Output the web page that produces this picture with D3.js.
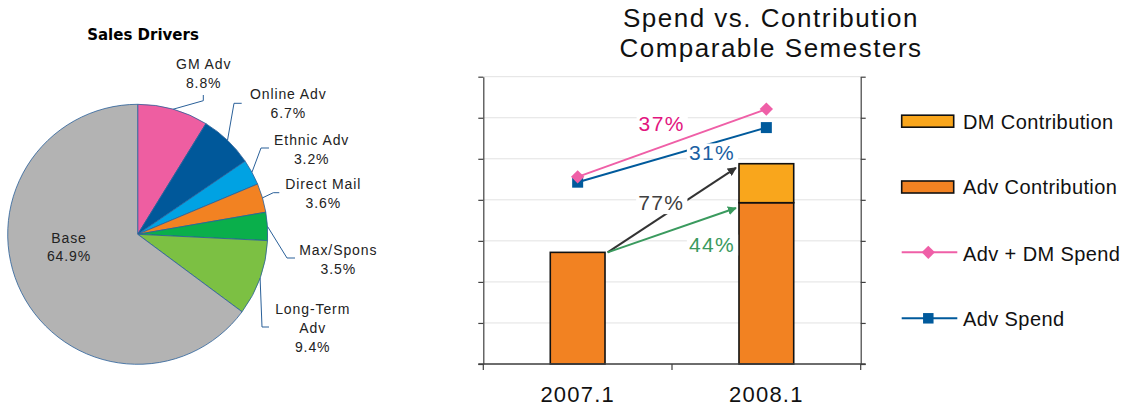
<!DOCTYPE html>
<html>
<head>
<meta charset="utf-8">
<script src="https://cdn.jsdelivr.net/npm/d3@7"></script>
<style>
  body { margin: 0; background: #fff; }
  svg { display: block; font-family: "Liberation Sans", Arial, sans-serif; }
</style>
</head>
<body>
<svg id="chart" width="1128" height="408"></svg>
<script>
// pie data
const driverNames = ["GM Adv", "Online Adv", "Ethnic Adv", "Direct Mail", "Max/Spons", "Long-Term Adv", "Base"];
const driverShares = [8.8, 6.7, 3.2, 3.6, 3.5, 9.4, 64.9];
const driverColors = ["#ee5ea1", "#00589a", "#00a2e3", "#f28222", "#0aaf4b", "#7cc043", "#b3b3b3"];

// bar / line data
const semesters = ["2007.1", "2008.1"];
const advContribution = [2.72, 3.93];
const dmContribution = [0, 0.95];
const advDmSpend = [4.56, 6.21];
const advSpend = [4.43, 5.76];
const growthLabels = ["37%", "31%", "77%", "44%"];

const svg = d3.select("#chart");
svg.append("rect").attr("width", 1128).attr("height", 408).attr("fill", "#fff");

// ---------- pie ----------
const cx = 137.7, cy = 234.3, r = 130;
const pieG = svg.append("g").attr("transform", `translate(${cx},${cy})`);

svg.append("text")
  .attr("x", 143).attr("y", 40)
  .attr("text-anchor", "middle")
  .attr("font-family", "DejaVu Sans")
  .attr("font-weight", "bold")
  .attr("font-size", 15)
  .text("Sales Drivers");

const pie = d3.pie().sort(null).value(d => d)(driverShares);
const arc = d3.arc().innerRadius(0).outerRadius(r);

pieG.selectAll("path.slice")
  .data(pie)
  .enter().append("path")
  .attr("class", "slice")
  .attr("d", arc)
  .attr("fill", (d, i) => driverColors[i])
  .attr("stroke", "#2a6099")
  .attr("stroke-width", 0.8);

// label layout relative to pie centre: text centre, first baseline, leader elbow and end
const labelLayout = [
  { tx: 66, ty: -165, elbow: [65.6, -133.6], end: [65.6, -139.3] },
  { tx: 150.6, ty: -135, elbow: [96.3, -131], end: [104, -131] },
  { tx: 174, ty: -89.3, elbow: [123.3, -86.3], end: [131.3, -86.3] },
  { tx: 185.6, ty: -45.3, elbow: [135.6, -41.6], end: [141.6, -41.6] },
  { tx: 200.6, ty: 20.7, elbow: [149.3, 23.7], end: [157.3, 23.7] },
  { tx: 175, ty: 80, elbow: [124.3, 92.7], end: [131.3, 92.7] },
  { tx: -68.7, ty: 8.4, elbow: null, end: null }
];

pie.forEach((d, i) => {
  const lay = labelLayout[i];
  if (lay.elbow) {
    const mid = (d.startAngle + d.endAngle) / 2;
    const p0 = [r * Math.sin(mid), -r * Math.cos(mid)];
    pieG.append("path")
      .attr("d", d3.line()([p0, lay.elbow, lay.end]))
      .attr("fill", "none")
      .attr("stroke", "#2a6099")
      .attr("stroke-width", 1);
  }
  const name = driverNames[i];
  const lines = name === "Long-Term Adv" ? ["Long-Term", "Adv"] : [name];
  lines.push(driverShares[i].toFixed(1) + "%");
  const t = pieG.append("text")
    .attr("text-anchor", "middle")
    .attr("font-size", 14)
    .attr("letter-spacing", "0.9px")
    .attr("fill", "#222");
  lines.forEach((s, k) => {
    t.append("tspan").attr("x", lay.tx).attr("y", lay.ty + k * 18.7).text(s);
  });
});

// ---------- bar chart ----------
const plotL = 483.3, plotR = 860.7, plotT = 76.7, plotB = 364;
const x = d3.scaleBand().domain(semesters).range([plotL, plotR]).padding(0);
const y = d3.scaleLinear().domain([0, 7]).range([plotB, plotT]);
const barW = x.bandwidth() * 0.29;
const xc = c => x(c) + x.bandwidth() / 2;

// title
const title = svg.append("text")
  .attr("text-anchor", "middle")
  .attr("font-size", 26)
  .attr("letter-spacing", "1.5px")
  .attr("fill", "#111");
title.append("tspan").attr("x", 771).attr("y", 27).text("Spend vs. Contribution");
title.append("tspan").attr("x", 771).attr("y", 57).text("Comparable Semesters");

// grid
svg.append("g").selectAll("line")
  .data(y.ticks(7))
  .enter().append("line")
  .attr("x1", plotL).attr("x2", plotR)
  .attr("y1", d => y(d)).attr("y2", d => y(d))
  .attr("stroke", "#e2e2e2")
  .attr("stroke-width", 1);

// side axes
const axL = svg.append("g").attr("transform", `translate(${plotL},0)`)
  .call(d3.axisLeft(y).ticks(7).tickSize(5).tickFormat("").tickSizeOuter(0));
const axR = svg.append("g").attr("transform", `translate(${plotR},0)`)
  .call(d3.axisRight(y).ticks(7).tickSize(5).tickFormat("").tickSizeOuter(0));
[axL, axR].forEach(a => {
  a.selectAll("path, line").attr("stroke", "#404040").attr("stroke-width", 1.2);
});

// bars
const stackRows = semesters.map((s, i) => ({ sem: s, adv: advContribution[i], dm: dmContribution[i] }));
const stacked = d3.stack().keys(["adv", "dm"])(stackRows);
const barColors = { adv: "#f28222", dm: "#f9a61c" };

stacked.forEach(layer => {
  svg.append("g").selectAll("rect")
    .data(layer.filter(d => d[1] > d[0]))
    .enter().append("rect")
    .attr("x", d => xc(d.data.sem) - barW / 2)
    .attr("width", barW)
    .attr("y", d => y(d[1]))
    .attr("height", d => y(d[0]) - y(d[1]))
    .attr("fill", barColors[layer.key])
    .attr("stroke", "#111")
    .attr("stroke-width", 1.6);
});

// bottom axis
const axB = svg.append("g").attr("transform", `translate(0,${plotB})`);
axB.append("line").attr("x1", plotL - 5).attr("x2", plotR + 5)
  .attr("stroke", "#404040").attr("stroke-width", 1.4);
axB.selectAll("line.tick")
  .data([plotL, ...semesters.slice(1).map(s => x(s)), plotR])
  .enter().append("line")
  .attr("class", "tick")
  .attr("x1", d => d).attr("x2", d => d)
  .attr("y1", 0).attr("y2", 6)
  .attr("stroke", "#404040").attr("stroke-width", 1.2);
axB.selectAll("text")
  .data(semesters)
  .enter().append("text")
  .attr("x", d => xc(d))
  .attr("y", 38.3)
  .attr("text-anchor", "middle")
  .attr("font-size", 22)
  .attr("letter-spacing", "1.2px")
  .attr("fill", "#111")
  .text(d => d);

// arrows
const defs = svg.append("defs");
function marker(id, color) {
  defs.append("marker")
    .attr("id", id)
    .attr("viewBox", "0 0 10 10")
    .attr("refX", 9).attr("refY", 5)
    .attr("markerWidth", 4.5).attr("markerHeight", 4.5)
    .attr("orient", "auto")
    .attr("markerUnits", "strokeWidth")
    .append("path").attr("d", "M0,0 L10,5 L0,10 z").attr("fill", color);
}
marker("arrBlack", "#333");
marker("arrGreen", "#3a9a5e");

const startX = xc(semesters[0]) + barW / 2 + 2.6;
const endX = xc(semesters[1]) - barW / 2 - 3;
const total0 = advContribution[0] + dmContribution[0];
const total1 = advContribution[1] + dmContribution[1];

svg.append("line")
  .attr("x1", startX).attr("y1", y(total0))
  .attr("x2", endX).attr("y2", y(total1 - 0.1))
  .attr("stroke", "#333").attr("stroke-width", 2)
  .attr("marker-end", "url(#arrBlack)");
svg.append("line")
  .attr("x1", startX).attr("y1", y(advContribution[0]))
  .attr("x2", endX).attr("y2", y(advContribution[1] - 0.13))
  .attr("stroke", "#3a9a5e").attr("stroke-width", 2)
  .attr("marker-end", "url(#arrGreen)");

// spend lines
const lineGen = d3.line().x((d, i) => xc(semesters[i])).y(d => y(d));
svg.append("path").datum(advDmSpend)
  .attr("d", lineGen).attr("fill", "none")
  .attr("stroke", "#ef5fa7").attr("stroke-width", 2);
svg.append("path").datum(advSpend)
  .attr("d", lineGen).attr("fill", "none")
  .attr("stroke", "#005a9c").attr("stroke-width", 2);

svg.append("g").selectAll("path")
  .data(advSpend)
  .enter().append("path")
  .attr("d", d3.symbol().type(d3.symbolSquare).size(121))
  .attr("transform", (d, i) => `translate(${xc(semesters[i])},${y(d)})`)
  .attr("fill", "#005a9c");
svg.append("g").selectAll("path")
  .data(advDmSpend)
  .enter().append("path")
  .attr("d", d3.symbol().type(d3.symbolSquare).size(88))
  .attr("transform", (d, i) => `translate(${xc(semesters[i])},${y(d)}) rotate(45)`)
  .attr("fill", "#ef5fa7");

// growth annotations: offset from mid between semesters, value-level baseline
const midX = x(semesters[1]);
const annLayout = [
  { dx: -10.3, yv: 5.68, color: "#e2157f" },
  { dx: 40, yv: 4.96, color: "#1a5fa3" },
  { dx: -10.7, yv: 3.75, color: "#404040" },
  { dx: 40, yv: 2.74, color: "#3a9a5e" }
];
annLayout.forEach((a, i) => {
  const g = svg.append("g");
  const t = g.append("text")
    .attr("x", midX + a.dx).attr("y", y(a.yv))
    .attr("text-anchor", "middle")
    .attr("font-size", 21)
    .attr("letter-spacing", "1.4px")
    .attr("fill", a.color)
    .text(growthLabels[i]);
  const bb = t.node().getBBox();
  g.insert("rect", "text")
    .attr("x", bb.x - 2).attr("y", bb.y + 2)
    .attr("width", bb.width + 5).attr("height", bb.height - 2)
    .attr("fill", "#fff");
});

// legend
const legX = 901.7, legTextX = 963;
const legItems = [
  { label: "DM Contribution", type: "box", color: "#f9a61c", yc: 121.2, base: 129.3 },
  { label: "Adv Contribution", type: "box", color: "#f28222", yc: 187, base: 194.3 },
  { label: "Adv + DM Spend", type: "diamond", color: "#ef5fa7", yc: 252.3, base: 260.7 },
  { label: "Adv Spend", type: "square", color: "#005a9c", yc: 318.3, base: 326 }
];
const leg = svg.append("g");
legItems.forEach(it => {
  if (it.type === "box") {
    leg.append("rect")
      .attr("x", legX).attr("y", it.yc - 6)
      .attr("width", 52).attr("height", 12)
      .attr("fill", it.color).attr("stroke", "#111").attr("stroke-width", 1.6);
  } else {
    leg.append("line")
      .attr("x1", legX).attr("x2", legX + 55.6)
      .attr("y1", it.yc).attr("y2", it.yc)
      .attr("stroke", it.color).attr("stroke-width", 2);
    leg.append("path")
      .attr("d", d3.symbol().type(d3.symbolSquare).size(it.type === "diamond" ? 88 : 110))
      .attr("transform", `translate(${legX + 26.6},${it.yc})` + (it.type === "diamond" ? " rotate(45)" : ""))
      .attr("fill", it.color);
  }
  leg.append("text")
    .attr("x", legTextX).attr("y", it.base)
    .attr("font-size", 20)
    .attr("letter-spacing", "0.4px")
    .attr("fill", "#111")
    .text(it.label);
});
</script>
</body>
</html>
